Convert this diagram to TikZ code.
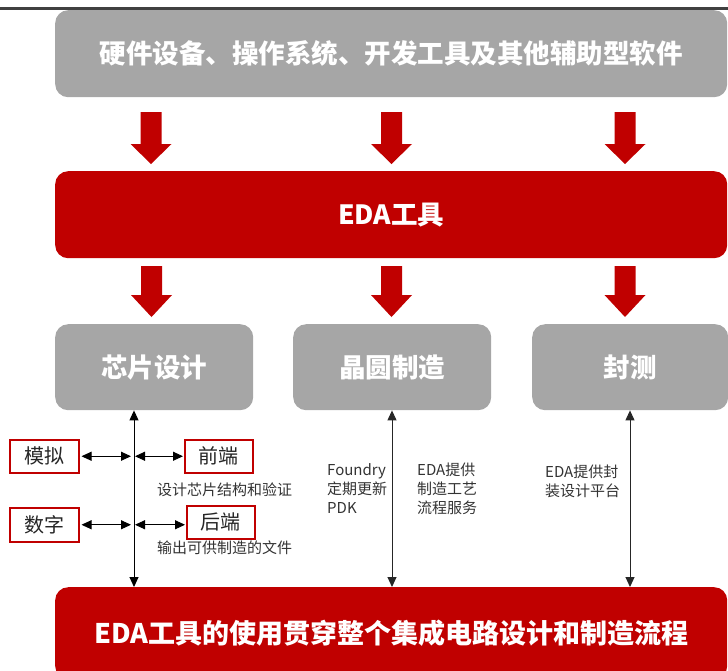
\documentclass[tikz,border=0pt]{standalone}
\usepackage{fontspec}
\setmainfont{Noto Sans CJK SC}
\usetikzlibrary{arrows.meta,calc}
\definecolor{ered}{HTML}{C00000}
\definecolor{egray}{HTML}{A6A6A6}
\definecolor{eline}{HTML}{404040}
\newcommand\blkarrow[4]{% x, shaft top, head base, tip
  \fill[ered] (#1-10.5,#2) -- (#1+10.5,#2) -- (#1+10.5,#3) -- (#1+20.5,#3) -- (#1,#4)
    -- (#1-20.5,#3) -- (#1-10.5,#3) -- cycle;}
\begin{document}
\begin{tikzpicture}[x=1pt,y=-1pt,
  panel/.style={rounded corners=13pt, inner sep=0pt, anchor=north west, text=white,
    font=\fontsize{26.5}{30}\selectfont\bfseries},
  graypanel/.style={panel, fill=egray},
  redpanel/.style={panel, fill=ered},
  tagbox/.style={draw=ered, line width=1.5pt, fill=white, inner sep=0pt, anchor=north west,
    font=\fontsize{20}{24}\selectfont, text=black!85},
  note/.style={inner sep=0pt, anchor=west, align=left, text=black!80,
    font=\fontsize{15}{19}\selectfont},
  dbl/.style={{Triangle[length=10pt,width=9pt]}-{Triangle[length=10pt,width=9pt]}, line width=1pt},
]
\useasboundingbox (0,0) rectangle (728,670);
% title rule
\draw[eline, line width=3pt] (0,8.7) -- (728,8.7);
% top panel
\node[graypanel, minimum width=672, minimum height=87] (hw) at (55,10)
  {硬件设备、操作系统、开发工具及其他辅助型软件};
\blkarrow{151}{112}{144}{164}
\blkarrow{391.5}{112}{144}{164}
\blkarrow{625}{112}{144}{164}
% EDA panel
\node[redpanel, minimum width=672, minimum height=87] (eda) at (55,171) {EDA工具};
\blkarrow{151.5}{266}{295}{317}
\blkarrow{391.5}{266}{295}{317}
\blkarrow{625}{266}{295}{317}
% three stage boxes
\node[graypanel, minimum width=198, minimum height=86] (chip) at (55,324) {芯片设计};
\node[graypanel, minimum width=198, minimum height=86] (fab) at (293,324) {晶圆制造};
\node[graypanel, minimum width=196, minimum height=86] (pkg) at (532,324) {封测};
% bottom panel
\node[redpanel, minimum width=672, minimum height=92, font=\fontsize{27}{30}\selectfont\bfseries]
  (flow) at (55,587) {EDA工具的使用贯穿整个集成电路设计和制造流程};
% vertical double arrows
\coordinate (v1) at (134,0);
\coordinate (v2) at (392,0);
\coordinate (v3) at (630,0);
\draw[dbl] (chip.south -| v1) -- (flow.north -| v1);
\draw[dbl, black!85] (fab.south -| v2) -- (flow.north -| v2);
\draw[dbl, black!85] (pkg.south -| v3) -- (flow.north -| v3);
% tag boxes
\node[tagbox, minimum width=69, minimum height=33] (mo) at (9,439) {模拟};
\node[tagbox, minimum width=68, minimum height=33] (qd) at (184,439) {前端};
\node[tagbox, minimum width=69, minimum height=34] (sz) at (9,507) {数字};
\node[tagbox, minimum width=68, minimum height=33] (hd) at (186,505) {后端};
\draw[dbl, shorten <=2pt, shorten >=3pt] (mo.east) -- (mo.east -| v1);
\draw[dbl, shorten <=1pt, shorten >=1pt] (qd.west -| v1) -- (qd.west);
\draw[dbl, shorten <=2pt, shorten >=3pt] (sz.east) -- (sz.east -| v1);
\draw[dbl, shorten <=1pt, shorten >=1pt] (sz.east -| v1) -- (hd.west |- sz.east);
% notes
\node[note] (n1) at (157,490) {设计芯片结构和验证};
\node[note] (n2) at (157,548) {输出可供制造的文件};
\node[note] (n3) at (327,489) {Foundry\\定期更新\\PDK};
\node[note] (n4) at (417,489) {EDA提供\\制造工艺\\流程服务};
\node[note] (n5) at (545,481) {EDA提供封\\装设计平台};
\end{tikzpicture}
\end{document}
